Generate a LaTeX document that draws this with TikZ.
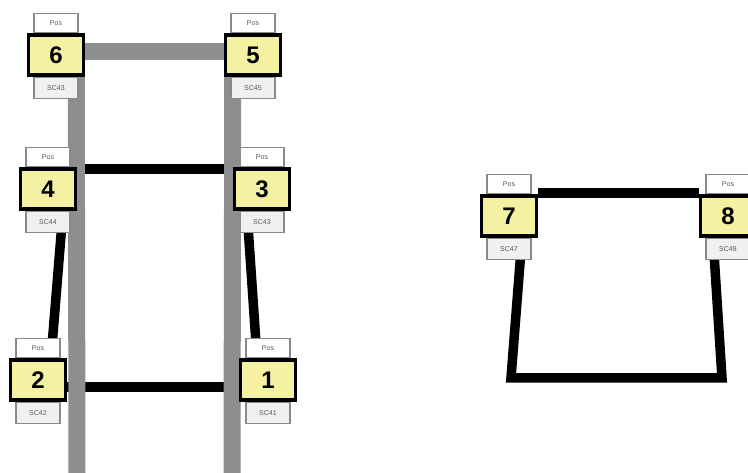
\documentclass[tikz,border=0pt]{standalone}
\usepackage{fontspec}
\setmainfont{Liberation Sans}
\usetikzlibrary{calc}
\definecolor{posyellow}{HTML}{F4F2A2}
\definecolor{railgray}{HTML}{8E8E8E}
\definecolor{lblgray}{HTML}{8A8A8A}
\tikzset{
  x=1pt, y=-1pt,
  posbox/.style={draw=black, line width=3.5pt, fill=posyellow, minimum width=55pt, minimum height=40pt, inner sep=0pt, font=\fontsize{24}{24}\selectfont\bfseries},
  toplbl/.style={draw=lblgray, line width=1.5pt, fill=white, minimum width=44pt, minimum height=19pt, inner sep=0pt, text=black!65, font=\fontsize{7}{7}\selectfont},
  botlbl/.style={draw=lblgray, line width=1.5pt, fill=black!6, minimum width=44pt, minimum height=21pt, inner sep=0pt, text=black!65, font=\fontsize{7}{7}\selectfont},
  rail/.style={draw=railgray, line width=17pt},
  wire/.style={draw=black, line width=9.5pt},
}
\begin{document}
\begin{tikzpicture}
\useasboundingbox (0,0) rectangle (748,473);
\clip (0,0) rectangle (748,473);
% main boxes (placed first, for connectors)
\node[posbox] (n6) at (56,55) {6};
\node[posbox] (n5) at (253,55) {5};
\node[posbox] (n4) at (48,189) {4};
\node[posbox] (n3) at (262,189) {3};
\node[posbox] (n2) at (38,380) {2};
\node[posbox] (n1) at (268,380) {1};
\node[posbox] (n7) at (509,216) {7};
\node[posbox] (n8) at (728,216) {8};
\coordinate (railL) at (77,473);
\coordinate (railR) at (232,473);
\coordinate (c7) at (511,378);
\coordinate (c8) at (722,378);
% connectors
\draw[wire] ($(n4.north east)+(0,2)$) -- ($(n3.north west)+(0,2)$);
\draw[wire] ($(n2.east)+(0,7)$) -- ($(n1.west)+(0,7)$);
\draw[rail] ($(n6.east)+(0,-3)$) -- ($(n5.west)+(0,-3)$);
\draw[rail] ($(n6.south east)+(-9,0)$) -- (railL);
\draw[rail] ($(n5.south west)+(9,0)$) -- (railR);
\draw[wire] ($(n4.south)+(15,0)$) -- ($(n2.north)+(13,0)$);
\draw[wire] ($(n3.south)+(-15,0)$) -- ($(n1.north)+(-11,0)$);
\draw[wire] ($(n7.north east)+(0,-1)$) -- ($(n8.north west)+(0,-1)$);
\draw[wire, line join=miter] ($(n7.south)+(13,0)$) -- (c7) -- (c8) -- ($(n8.south)+(-15,0)$);
% labels
\foreach \n/\s in {6/SC43,5/SC45,4/SC44,3/SC43,2/SC42,1/SC41,7/SC47,8/SC48}{
  \node[toplbl, anchor=south] (t\n) at ($(n\n.north)+(0,0)$) {Pos};
  \node[botlbl, anchor=north] (b\n) at ($(n\n.south)+(0,0)$) {\s};
}
% redraw main boxes on top
\foreach \n in {6,5,4,3,2,1,7,8}{
  \node[posbox] at (n\n) {\n};
}
\end{tikzpicture}
\end{document}
